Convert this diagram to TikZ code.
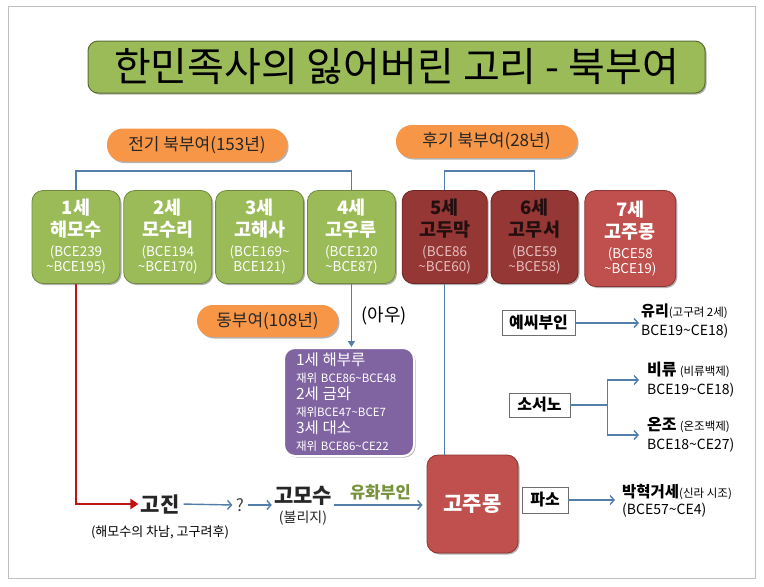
\documentclass[tikz,border=0pt]{standalone}
\usepackage{fontspec}
\setmainfont{Noto Sans CJK KR}
\usetikzlibrary{arrows.meta,positioning,shadows}
\definecolor{bbframe}{RGB}{192,192,192}
\definecolor{bbgreen}{RGB}{155,187,89}
\definecolor{bbgreenedge}{RGB}{113,137,63}
\definecolor{bbtitleedge}{RGB}{90,110,50}
\definecolor{bbdark}{RGB}{149,55,53}
\definecolor{bbdarkedge}{RGB}{110,38,36}
\definecolor{bbdarkink}{RGB}{35,15,15}
\definecolor{bbdarkdate}{RGB}{230,190,190}
\definecolor{bblight}{RGB}{192,80,77}
\definecolor{bblightedge}{RGB}{140,52,50}
\definecolor{bborange}{RGB}{247,150,70}
\definecolor{bbpurple}{RGB}{128,100,162}
\definecolor{bbblue}{RGB}{84,126,170}
\definecolor{bbred}{RGB}{192,20,20}
\definecolor{bbolive}{RGB}{118,146,60}
\definecolor{bbgrey}{RGB}{110,110,110}
\newcommand\gtx{\fontsize{18.5}{20}\selectfont\bfseries}
\newcommand\ptx{\fontsize{15.5}{17}\selectfont}
\newcommand\stx{\fontsize{11.5}{13}\selectfont}
\tikzset{
  shade/.style={drop shadow={shadow xshift=1.5pt, shadow yshift=-1.5pt, opacity=0.3, fill=black}},
  genbox/.style={
    draw, line width=0.8pt, rounded corners=11pt, align=center, inner sep=2pt,
    minimum width=88pt, minimum height=93pt, text=white,
    font=\fontsize{13.5}{20}\selectfont, shade
  },
  early/.style={genbox, fill=bbgreen, draw=bbgreenedge},
  late/.style={genbox, fill=bbdark, draw=bbdarkedge, text=bbdarkdate},
  king/.style={genbox, fill=bblight, draw=bblightedge},
  pill/.style={
    fill=bborange, rounded corners=16pt, minimum height=33pt, inner sep=2pt,
    font=\fontsize{17}{20}\selectfont, text=black!85, shade
  },
  wife/.style={
    draw=bbgrey, fill=white, line width=0.6pt, inner sep=2pt,
    minimum height=25pt, font=\fontsize{16}{18}\selectfont\bfseries
  },
  heir/.style={align=left, inner sep=2pt, font=\fontsize{14}{19}\selectfont, anchor=west},
  person/.style={inner sep=2pt, font=\fontsize{21}{24}\selectfont\bfseries, text=black!85},
  note/.style={inner sep=1pt, font=\fontsize{13}{15}\selectfont},
  ln/.style={draw=bbblue, line width=1.4pt},
  arr/.style={ln, -{Straight Barb[length=4pt,width=9pt]}},
  varr/.style={ln, -{Triangle[length=6pt,width=7pt]}},
  redarr/.style={draw=bbred, line width=2.8pt, -{Triangle[length=8pt,width=10pt]}}
}
\begin{document}
\begin{tikzpicture}[x=1pt, y=-1pt, node distance=3pt]
  \useasboundingbox (0,0) rectangle (764,587);
  \draw[bbframe, line width=1pt] (8,6) rectangle (755,578);
  \node[fill=bbgreen, draw=bbtitleedge, line width=1pt, rounded corners=10pt,
    minimum width=617pt, minimum height=52pt, font=\fontsize{40}{42}\selectfont, shade]
    (title) at (396.5,67) {한민족사의 잃어버린 고리 - 북부여};
  \node[pill, minimum width=180pt] (early age) at (197,145) {전기 북부여(153년)};
  \node[pill, minimum width=181pt] (late age) at (486.5,141.5) {후기 북부여(28년)};
  \node[early] (g1) at (76,237)
    {{\gtx 1세}\\[2pt]{\gtx 해모수}\\(BCE239\\[-5pt]\textasciitilde BCE195)};
  \node[early, right=of g1] (g2)
    {{\gtx 2세}\\[2pt]{\gtx 모수리}\\(BCE194\\[-5pt]\textasciitilde BCE170)};
  \node[early, right=of g2] (g3)
    {{\gtx 3세}\\[2pt]{\gtx 고해사}\\(BCE169\textasciitilde\\[-5pt]BCE121)};
  \node[early, right=of g3] (g4)
    {{\gtx 4세}\\[2pt]{\gtx 고우루}\\(BCE120\\[-5pt]\textasciitilde BCE87)};
  \node[late, right=6pt of g4, minimum width=85pt] (g5)
    {{\gtx\color{bbdarkink}5세}\\[2pt]{\gtx\color{bbdarkink}고두막}\\(BCE86\\[-5pt]\textasciitilde BCE60)};
  \node[late, right=of g5, minimum width=87pt] (g6)
    {{\gtx\color{bbdarkink}6세}\\[2pt]{\gtx\color{bbdarkink}고무서}\\(BCE59\\[-5pt]\textasciitilde BCE58)};
  \node[king, right=6pt of g6, minimum width=91pt, minimum height=96pt, yshift=-1.5pt] (g7)
    {{\gtx 7세}\\[2pt]{\gtx 고주몽}\\(BCE58\\[-5pt]\textasciitilde BCE19)};
  \draw[ln] (g1.north) -- ++(0,-19) -| (g4.north);
  \draw[ln] (g5.north) -- ++(0,-19) -| (g6.north);
  \node[pill, minimum width=141pt, minimum height=32pt] (east age) at (267.5,321) {동부여(108년)};
  \node[font=\fontsize{18}{20}\selectfont] (brother) at (384,316) {(아우)};
  \node[draw=white, line width=2pt, fill=bbpurple, rounded corners=11pt, text=white,
    align=left, minimum width=130pt, minimum height=108pt, inner sep=0pt,
    text width=106pt, font=\fontsize{11.5}{17}\selectfont, shade] (east) at (349,402)
    {{\ptx 1세 해부루}\\재위 BCE86\textasciitilde BCE48\\{\ptx 2세 금와}\\재위BCE47\textasciitilde BCE7\\
     {\ptx 3세 대소}\\재위 BCE86\textasciitilde CE22};
  \draw[varr] (g4.south) -- (g4.south |- east.north);
  \node[king, minimum width=91pt, minimum height=98pt, font=\fontsize{21}{24}\selectfont\bfseries]
    (jumong) at (472.5,504) {고주몽};
  \draw[ln] (g5.south) -- (g5.south |- jumong.north);
  \node[person] (gojin) at (160,504) {고진};
  \node[note] (gojin note) at (160,532) {(해모수의 차남, 고구려후)};
  \draw[redarr] (g1.south) |- (gojin.west);
  \node[font=\fontsize{17}{20}\selectfont, text=black!75] (unknown) at (240,505) {?};
  \draw[arr, shorten <=2pt] (gojin.east) -- (unknown.west);
  \node[person, align=center, font=\fontsize{21}{19}\selectfont\bfseries] (gomosu) at (303,506)
    {고모수\\{\fontsize{14}{16}\selectfont\mdseries (불리지)}};
  \draw[arr] (unknown.east) -- (unknown -| gomosu.west);
  \draw[arr, shorten >=4pt] (gomosu.east |- unknown) -- node[above=1pt, text=bbolive,
    font=\fontsize{16.5}{18}\selectfont\bfseries] (yuhwa) {유화부인} (unknown -| jumong.west);
  \node[wife, minimum width=73pt] (yessi) at (538.5,323) {예씨부인};
  \node[heir] (yuri) at (639,321) {{\bfseries\fontsize{15}{17}\selectfont 유리}{\stx(고구려 2세)}\\BCE19\textasciitilde CE18)};
  \draw[arr] (yessi.east) -- (yessi -| yuri.west);
  \node[wife, minimum width=61pt, minimum height=24pt] (soseono) at (539.5,405) {소서노};
  \node[heir] (biryu) at (645,380) {{\bfseries\fontsize{16}{17}\selectfont 비류} {\stx(비류백제)}\\BCE19\textasciitilde CE18)};
  \node[heir] (onjo) at (645,435) {{\bfseries\fontsize{16}{17}\selectfont 온조} {\stx(온조백제)}\\BCE18\textasciitilde CE27)};
  \draw[ln] (soseono.east) -- ++(37,0) coordinate (split);
  \draw[arr, shorten >=6pt] (split) |- (biryu.west);
  \draw[arr, shorten >=6pt] (split) |- (onjo.west);
  \node[wife, minimum width=46pt, minimum height=26pt] (paso) at (545,500) {파소};
  \node[heir, font=\fontsize{14}{17}\selectfont] (hyeokgeose) at (620,501)
    {{\bfseries\fontsize{15.5}{17}\selectfont 박혁거세}{\stx(신라 시조)}\\(BCE57\textasciitilde CE4)};
  \draw[arr, shorten >=5pt] (paso.east) -- (paso -| hyeokgeose.west);
\end{tikzpicture}
\end{document}
